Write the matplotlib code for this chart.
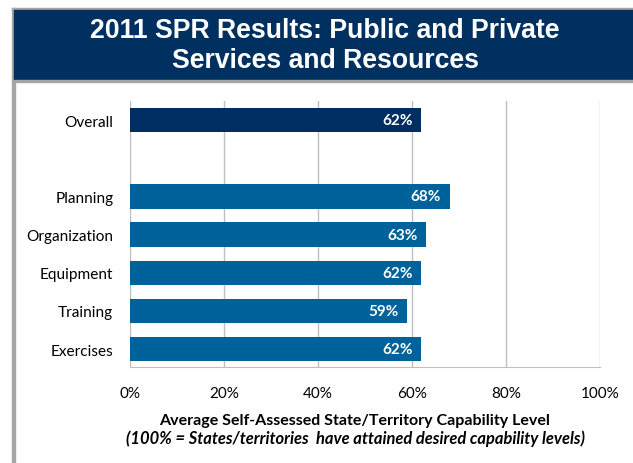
import numpy as np
import matplotlib.pyplot as plt
from matplotlib.patches import Rectangle

# Data (bottom to top, with a blank slot between Planning and Overall)
categories = ['Exercises', 'Training', 'Equipment', 'Organization', 'Planning', '', 'Overall']
values = [62, 59, 62, 63, 68, None, 62]
bar_colors = ['#00629b', '#00629b', '#00629b', '#00629b', '#00629b', None, '#002e62']
xticks = [0, 20, 40, 60, 80, 100]

title = '2011 SPR Results: Public and Private\nServices and Resources'
xlabel1 = 'Average Self-Assessed State/Territory Capability Level'
xlabel2 = '(100% = States/territories  have attained desired capability levels)'

W, H = 633, 464
fig = plt.figure(figsize=(W / 100, H / 100), dpi=100)

# frame: gray border on top and left, dark header band
fig.add_artist(Rectangle((12 / W, 0), 3 / W, 1 - 9 / H, transform=fig.transFigure,
                         color='#a6a6a6', zorder=0))
fig.add_artist(Rectangle((12 / W, 1 - 12 / H), 1, 3 / H, transform=fig.transFigure,
                         color='#a6a6a6', zorder=0))
fig.add_artist(Rectangle((14 / W, 1 - 81 / H), 1, 70 / H, transform=fig.transFigure,
                         color='#00305f', zorder=1))
fig.add_artist(Rectangle((14 / W, 1 - 83 / H), 1, 2 / H, transform=fig.transFigure,
                         color='#a6a6a6', zorder=1))
fig.text(325 / W, 1 - 46 / H, title, color='white', ha='center', va='center',
         fontsize=19.2, fontweight='bold', family='Liberation Sans', linespacing=1.18)

ax = fig.add_axes([130 / W, 1 - 368 / H, 470 / W, 266 / H])
ypos = np.arange(len(categories))
for y, v, c in zip(ypos, values, bar_colors):
    if v is None:
        continue
    ax.barh(y, v, height=0.64, color=c, zorder=3)
    ax.text(v - 1.8, y, f'{v}%', color='white', ha='right', va='center',
            fontsize=11, fontweight='bold', family='Lato', zorder=4)

ax.set_xlim(0, 100)
ax.set_ylim(-0.47, 6.5)
ax.set_xticks(xticks)
ax.set_xticklabels([f'{t}%' for t in xticks], family='Lato', fontsize=11)
ax.set_yticks(ypos)
ax.set_yticklabels(categories, family='Lato', fontsize=11.1)
ax.tick_params(length=0)
ax.tick_params(axis='y', pad=12)
ax.tick_params(axis='x', pad=14)
ax.grid(axis='x', color='#bfbfbf', linewidth=1, zorder=0)
for s in ['top', 'right', 'left']:
    ax.spines[s].set_visible(False)
ax.spines['bottom'].set_color('#bfbfbf')

fig.text(355 / W, 1 - 421 / H, xlabel1, ha='center', va='center',
         fontsize=11.5, fontweight='bold', family='Lato')
fig.text(355 / W, 1 - 439 / H, xlabel2, ha='center', va='center',
         fontsize=11.9, fontweight='bold', style='italic', family='Lato')

fig.savefig('out.png', dpi=100)
